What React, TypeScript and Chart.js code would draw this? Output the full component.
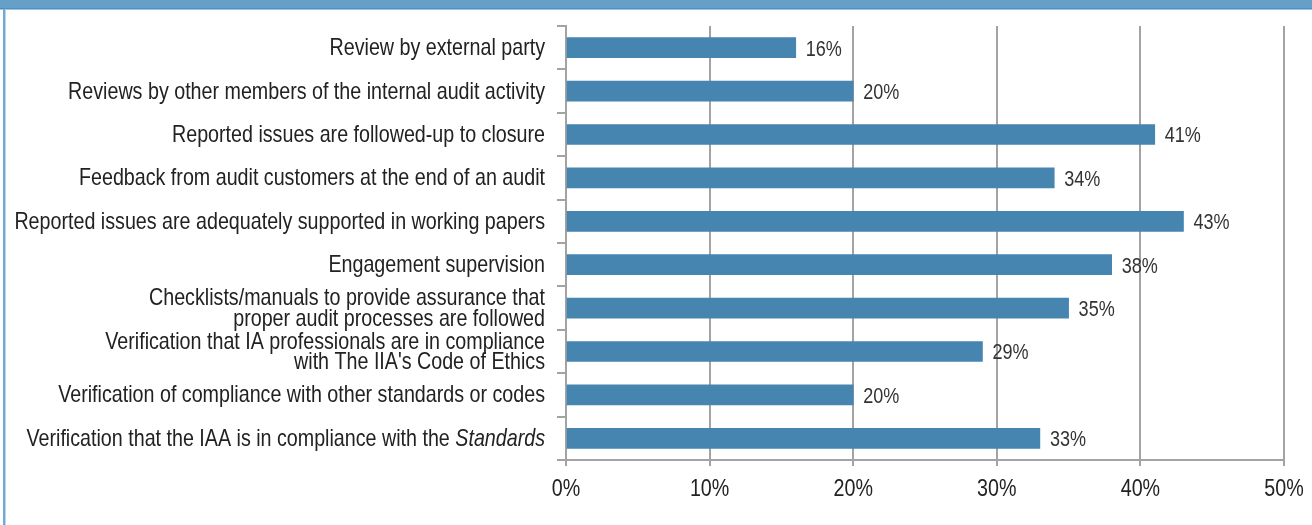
import React, { useEffect, useRef } from "react";
import { Chart, registerables } from "chart.js";

Chart.register(...registerables);

// Quality-assurance practices and the share of respondents using each
const categories: string[][] = [
  ["Review by external party"],
  ["Reviews by other members of the internal audit activity"],
  ["Reported issues are followed-up to closure"],
  ["Feedback from audit customers at the end of an audit"],
  ["Reported issues are adequately supported in working papers"],
  ["Engagement supervision"],
  ["Checklists/manuals to provide assurance that", "proper audit processes are followed"],
  ["Verification that IA professionals are in compliance", "with The IIA's Code of Ethics"],
  ["Verification of compliance with other standards or codes"],
  ["Verification that the IAA is in compliance with the |Standards"],
];

const shares: number[] = [16, 20, 41, 34, 43, 38, 35, 29, 20, 33];

const xTicks: number[] = [0, 10, 20, 30, 40, 50];

const FONT = "'Liberation Sans', Arial, sans-serif";
const NARROW = 0.82; // horizontal squeeze giving a condensed face
const BAR = "#4585b0";
const GRID = "#a3a3a3";
const TEXT = "#222222";

type Align = "left" | "right" | "center";

function narrowText(
  ctx: CanvasRenderingContext2D,
  text: string,
  x: number,
  baseline: number,
  size: number,
  align: Align,
  italic = false
): number {
  ctx.font = `${italic ? "italic " : ""}${size}px ${FONT}`;
  const w = ctx.measureText(text).width * NARROW;
  let left = x;
  if (align === "right") left = x - w;
  else if (align === "center") left = x - w / 2;
  ctx.save();
  ctx.translate(left, baseline);
  ctx.scale(NARROW, 1);
  ctx.textAlign = "left";
  ctx.textBaseline = "alphabetic";
  ctx.fillText(text, 0, 0);
  ctx.restore();
  return w;
}

// Frame: blue band across the top and a thin rule on the left edge
const framePlugin = {
  id: "frame",
  beforeDraw(chart: Chart) {
    const ctx = chart.ctx;
    ctx.save();
    ctx.fillStyle = "#ffffff";
    ctx.fillRect(0, 0, chart.width, chart.height);
    ctx.fillStyle = "#66a0c9";
    ctx.fillRect(0, 0, chart.width, 8);
    ctx.fillStyle = "#4f8fc2";
    ctx.fillRect(0, 8, chart.width, 1);
    ctx.fillStyle = "#9cc4e4";
    ctx.fillRect(0, 9, chart.width, 1);
    ctx.fillStyle = "#72aad4";
    ctx.fillRect(3, 9, 2, chart.height - 9);
    ctx.fillStyle = "#b9d6ee";
    ctx.fillRect(5, 9, 1, chart.height - 9);
    ctx.restore();
  },
};

// Category names (right-aligned, italic part after "|"), value labels and axis percentages
const labelPlugin = {
  id: "labels",
  afterDraw(chart: Chart) {
    const ctx = chart.ctx;
    const yScale = chart.scales.y;
    const xScale = chart.scales.x;
    const right = chart.chartArea.left - 21;
    const size = 24;
    const lineGap = 20.5;
    ctx.save();
    ctx.fillStyle = TEXT;
    categories.forEach((lines, i) => {
      const cy = yScale.getPixelForValue(i);
      const first = cy - ((lines.length - 1) * lineGap) / 2 - 1;
      lines.forEach((line, j) => {
        const base = first + j * lineGap + size * 0.358;
        const parts = line.split("|");
        if (parts.length === 2) {
          const wItalic = narrowText(ctx, parts[1], right, base, size, "right", true);
          narrowText(ctx, parts[0], right - wItalic, base, size, "right");
        } else {
          narrowText(ctx, line, right, base, size, "right");
        }
      });
    });

    const meta = chart.getDatasetMeta(0);
    const vSize = 22;
    ctx.fillStyle = "#333333";
    meta.data.forEach((bar: any, i: number) => {
      narrowText(ctx, `${shares[i]}%`, bar.x + 10, bar.y + vSize * 0.358, vSize, "left");
    });

    ctx.fillStyle = TEXT;
    const axisBase = chart.chartArea.bottom + 36;
    xTicks.forEach((v) => {
      narrowText(ctx, `${v}%`, xScale.getPixelForValue(v), axisBase, 24, "center");
    });
    ctx.restore();
  },
};

export default function App() {
  const canvasRef = useRef<HTMLCanvasElement | null>(null);

  useEffect(() => {
    document.body.style.margin = "0";
    const canvas = canvasRef.current;
    if (!canvas) return;
    const chart = new Chart(canvas, {
      type: "bar",
      data: {
        labels: categories.map((c) => c.join(" ").replace("|", "")),
        datasets: [
          {
            data: shares,
            backgroundColor: BAR,
            borderWidth: 0,
            barThickness: 20,
          },
        ],
      },
      options: {
        indexAxis: "y",
        animation: false,
        responsive: true,
        maintainAspectRatio: false,
        devicePixelRatio: 1,
        layout: { padding: { top: 26, right: 28, bottom: 0, left: 0 } },
        plugins: {
          legend: { display: false },
          tooltip: { enabled: false },
        },
        scales: {
          x: {
            min: xTicks[0],
            max: xTicks[xTicks.length - 1],
            afterBuildTicks: (scale: any) => {
              scale.ticks = xTicks.map((v) => ({ value: v }));
            },
            afterFit: (scale: any) => {
              scale.height = 65;
            },
            grid: {
              color: GRID,
              lineWidth: 2,
              tickLength: 6,
              drawTicks: true,
            },
            border: { color: GRID, width: 2 },
            ticks: { display: false },
          },
          y: {
            afterFit: (scale: any) => {
              scale.width = 566;
            },
            grid: {
              drawOnChartArea: false,
              color: GRID,
              lineWidth: 2,
              tickLength: 9,
              offset: true,
            },
            border: { color: GRID, width: 2 },
            ticks: { display: false },
          },
        },
      },
      plugins: [framePlugin, labelPlugin],
    });
    return () => chart.destroy();
  }, []);

  return (
    <div style={{ position: "absolute", left: 0, top: 0, width: 1312, height: 525 }}>
      <canvas ref={canvasRef} />
    </div>
  );
}
